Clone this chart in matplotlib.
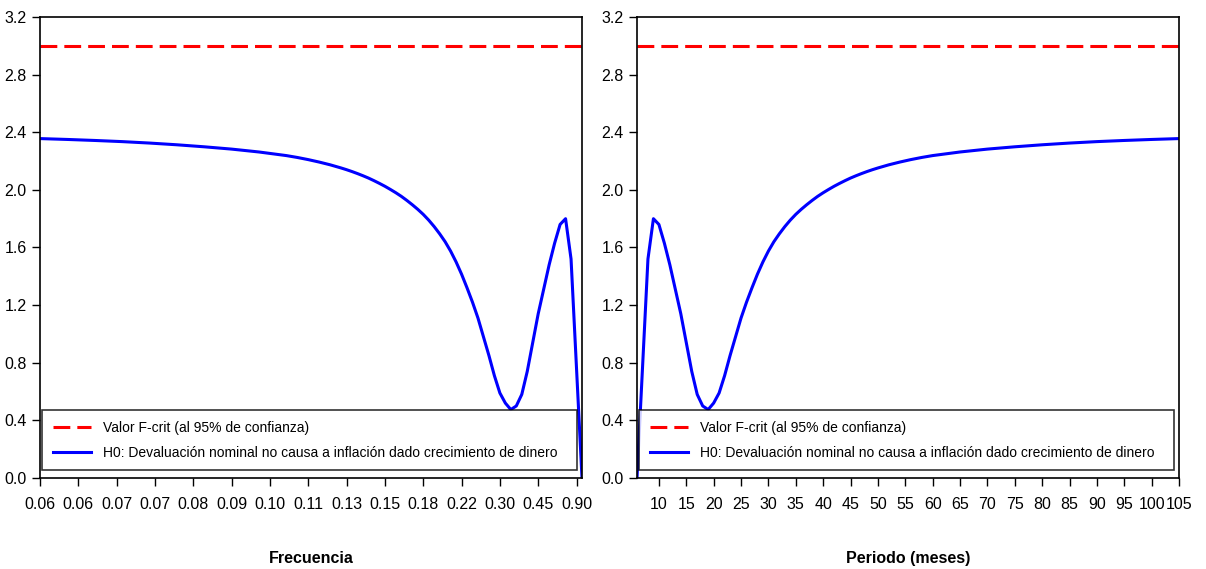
import matplotlib
matplotlib.use('Agg')
import matplotlib.pyplot as plt

plt.rcParams['font.family'] = ['Liberation Sans', 'DejaVu Sans']

# Periodo (meses) y estadístico F
periodos = [6, 7, 8, 9, 10, 11, 12, 13, 14, 15, 16, 17, 18, 19, 20, 21, 22, 23, 24, 25,
            26, 27, 28, 29, 30, 31, 32, 33, 34, 35, 36, 37, 38, 39, 40, 41, 42, 43, 44,
            45, 46, 47, 48, 49, 50, 52, 54, 56, 58, 60, 65, 70, 75, 80, 85, 90, 95, 100, 105]
f_stat = [0.00, 0.76, 1.52, 1.80, 1.76, 1.63, 1.48, 1.31, 1.14, 0.94, 0.74, 0.58, 0.50, 0.475,
          0.52, 0.59, 0.71, 0.85, 0.98, 1.11, 1.22, 1.32, 1.415, 1.50, 1.575, 1.64, 1.695,
          1.745, 1.79, 1.83, 1.865, 1.897, 1.927, 1.955, 1.98, 2.003, 2.025, 2.045, 2.064,
          2.082, 2.098, 2.113, 2.127, 2.14, 2.152, 2.174, 2.193, 2.21, 2.225, 2.238, 2.263,
          2.283, 2.299, 2.313, 2.325, 2.335, 2.343, 2.35, 2.356]
f_crit = 3.0

# Ticks del panel de frecuencia (frecuencia = 2*pi/periodo)
frec_periodos = [105, 98, 91, 84, 77, 70, 63, 56, 49, 42, 35, 28, 21, 14, 7]
frec_labels = ['0.06', '0.06', '0.07', '0.07', '0.08', '0.09', '0.10', '0.11', '0.13',
               '0.15', '0.18', '0.22', '0.30', '0.45', '0.90']
per_ticks = list(range(10, 106, 5))

lbl_crit = 'Valor F-crit (al 95% de confianza)'
lbl_h0 = 'H0: Devaluación nominal no causa a inflación dado crecimiento de dinero'

fig = plt.figure(figsize=(12.06, 5.69), dpi=100)
ax1 = fig.add_axes([40/1206, 91/569, 542/1206, 461/569])
ax2 = fig.add_axes([637/1206, 91/569, 542/1206, 461/569])

for ax in (ax1, ax2):
    ax.axhline(f_crit, color='#ff0000', lw=2.2, dashes=(5.5, 2.3), label=lbl_crit)
    ax.plot(periodos, f_stat, color='#0000ff', lw=2.2, label=lbl_h0)
    ax.set_ylim(0, 3.2)
    ax.set_yticks([0.0, 0.4, 0.8, 1.2, 1.6, 2.0, 2.4, 2.8, 3.2])
    ax.set_yticklabels([f'{v:.1f}' for v in ax.get_yticks()])
    ax.tick_params(axis='both', direction='out', length=6, width=1, labelsize=11.5,
                   right=False, top=False)
    ax.tick_params(axis='x', pad=8)
    for s in ax.spines.values():
        s.set_linewidth(1.2)
    leg = ax.legend(loc='lower left', bbox_to_anchor=(0.004, 0.017, 0.987, 0.135),
                    mode='expand', fontsize=10, frameon=True, fancybox=False,
                    borderaxespad=0, handlelength=2.8, handletextpad=0.8,
                    borderpad=0.75, labelspacing=0.8)
    leg.get_frame().set_edgecolor('black')
    leg.get_frame().set_linewidth(1.2)

ax1.set_xlim(105, 6)
ax1.set_xticks(frec_periodos)
ax1.set_xticklabels(frec_labels)
ax1.set_xlabel('Frecuencia', fontsize=11.5, fontweight='bold', labelpad=28)

ax2.set_xlim(6, 105)
ax2.set_xticks(per_ticks)
ax2.set_xticklabels([str(t) for t in per_ticks])
ax2.set_xlabel('Periodo (meses)', fontsize=11.5, fontweight='bold', labelpad=28)

fig.savefig('out.png', dpi=100)
